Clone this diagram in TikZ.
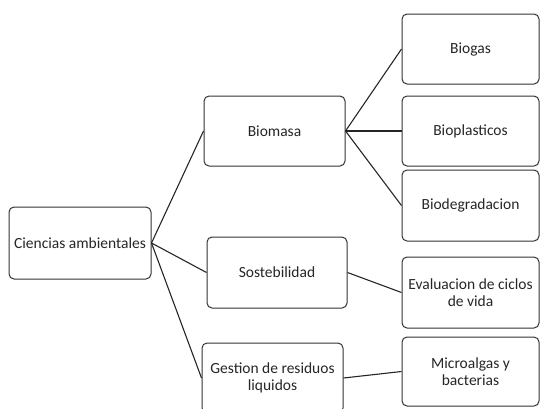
\documentclass[tikz,border=0pt]{standalone}
\usepackage{fontspec}
\setmainfont{Carlito}
\begin{document}
\begin{tikzpicture}[x=1pt,y=-1pt,
  box/.style={draw=black!80, line width=1pt, rounded corners=5pt, fill=white,
    inner sep=0pt, align=center, font=\fontsize{15.5}{17}\selectfont, text=black!85},
  link/.style={draw=black!85, line width=1.1pt}]
\useasboundingbox (0,0) rectangle (540,408);
\clip (0,0) rectangle (540,408);
\node[box, minimum width=142pt, minimum height=72pt] (cien) at (80,243) {Ciencias ambientales};
\node[box, minimum width=141pt, minimum height=70pt] (biom) at (274.5,131) {Biomasa};
\node[box, minimum width=140pt, minimum height=71pt] (sost) at (277,272.5) {Sostebilidad};
\node[box, minimum width=141pt, minimum height=70pt] (gest) at (272.5,378) {Gestion de residuos\\liquidos};
\node[box, minimum width=137pt, minimum height=70pt] (biog) at (470.5,49) {Biogas};
\node[box, minimum width=137pt, minimum height=70pt] (biop) at (470.5,131) {Bioplasticos};
\node[box, minimum width=137pt, minimum height=71pt] (biod) at (470.5,205.5) {Biodegradacion};
\node[box, minimum width=137pt, minimum height=71pt] (eval) at (470.5,292.5) {Evaluacion de ciclos\\de vida};
\node[box, minimum width=137pt, minimum height=69pt] (micr) at (470.5,371.5) {Microalgas y\\bacterias};
\draw[link] (cien.east) -- (biom.west);
\draw[link] (cien.east) -- (sost.west);
\draw[link] (cien.east) -- (gest.west);
\draw[link] (biom.east) -- (biog.west);
\draw[link] (biom.east) -- (biop.west);
\draw[link] (biom.east) -- (biod.west);
\draw[link] (sost.east) -- (eval.west);
\draw[link] (gest.east) -- (micr.west);
\end{tikzpicture}
\end{document}
